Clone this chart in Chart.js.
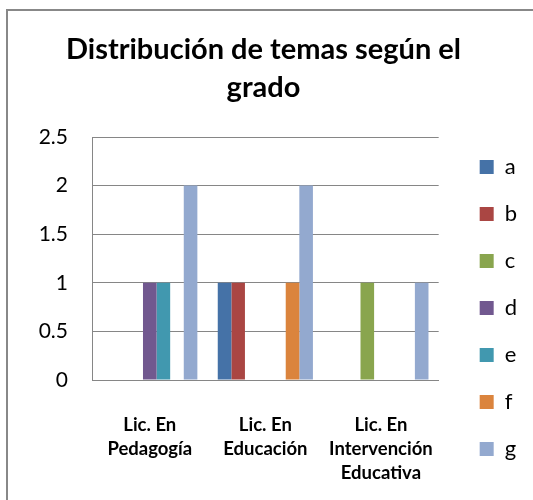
<!DOCTYPE html>
<html>
<head>
<meta charset="utf-8">
<script src="https://cdn.jsdelivr.net/npm/chart.js@4"></script>
<style>
  body { margin: 0; background: #fff; }
  #wrap { position: relative; width: 533px; height: 500px; overflow: hidden; }
  #frame { position: absolute; left: 6px; top: 9px; width: 560px; height: 520px; border-left: 2px solid #888; border-top: 2px solid #888; }
  #chart { position: absolute; left: 0; top: 0; }
</style>
</head>
<body>
<div id="wrap">
  <div id="frame"></div>
  <canvas id="chart" width="533" height="500"></canvas>
</div>
<script>
const categories = [["Lic. En", "Pedagogía"], ["Lic. En", "Educación"], ["Lic. En", "Intervención", "Educativa"]];
const seriesNames = ["a", "b", "c", "d", "e", "f", "g"];
const serieA = [0, 1, 0];
const serieB = [0, 1, 0];
const serieC = [0, 0, 1];
const serieD = [1, 0, 0];
const serieE = [1, 0, 0];
const serieF = [0, 1, 0];
const serieG = [2, 2, 1];
const yTicks = ["0", "0.5", "1", "1.5", "2", "2.5"];
const colors = ["#4572A7", "#AA4643", "#89A54E", "#71588F", "#4198AF", "#DB843D", "#93A9CF"];

document.addEventListener("DOMContentLoaded", function () {
    const values = [serieA, serieB, serieC, serieD, serieE, serieF, serieG];
    const ctx = document.getElementById("chart").getContext("2d");
    new Chart(ctx, {
        type: "bar",
        data: {
            labels: categories,
            datasets: seriesNames.map((name, i) => ({
                label: name,
                data: values[i],
                backgroundColor: colors[i],
                categoryPercentage: 7 / 8.5,
                barPercentage: 1
            }))
        },
        options: {
            responsive: false,
            animation: false,
            layout: { padding: { left: 0, right: 6, top: 0, bottom: 0 } },
            plugins: {
                tooltip: { enabled: false },
                title: {
                    display: true,
                    text: ["Distribución de temas según el", "grado"],
                    color: "#000",
                    font: { family: "Lato", size: 29, weight: "bold", lineHeight: 38 / 29 },
                    padding: { top: 31, bottom: 30 }
                },
                legend: {
                    position: "right",
                    align: "start",
                    title: { display: true, text: " ", font: { size: 12 }, padding: { top: 116.6, bottom: 0 } },
                    labels: {
                        boxWidth: 14,
                        boxHeight: 14,
                        padding: 25,
                        color: "#000",
                        font: { family: "Lato", size: 22 }
                    }
                }
            },
            scales: {
                x: {
                    grid: { display: false },
                    border: { display: true, color: "#868686" },
                    ticks: {
                        color: "#000",
                        padding: 25,
                        maxRotation: 0,
                        font: { family: "Lato", size: 18.5, weight: "bold", lineHeight: 24 / 18.5 }
                    },
                    afterFit: s => { s.height = 120; }
                },
                y: {
                    min: 0,
                    max: 2.5,
                    grid: { color: "#868686", drawTicks: false },
                    border: { display: true, color: "#868686" },
                    ticks: {
                        stepSize: 0.5,
                        padding: 24,
                        color: "#000",
                        font: { family: "Lato", size: 21 },
                        callback: (v, i) => yTicks[i]
                    },
                    afterFit: s => { s.width = 92; }
                },
                yRight: {
                    position: "right",
                    display: true,
                    grid: { display: false },
                    border: { display: false },
                    ticks: { display: false },
                    afterFit: s => { s.width = 16; }
                }
            }
        }
    });
});
</script>
</body>
</html>
